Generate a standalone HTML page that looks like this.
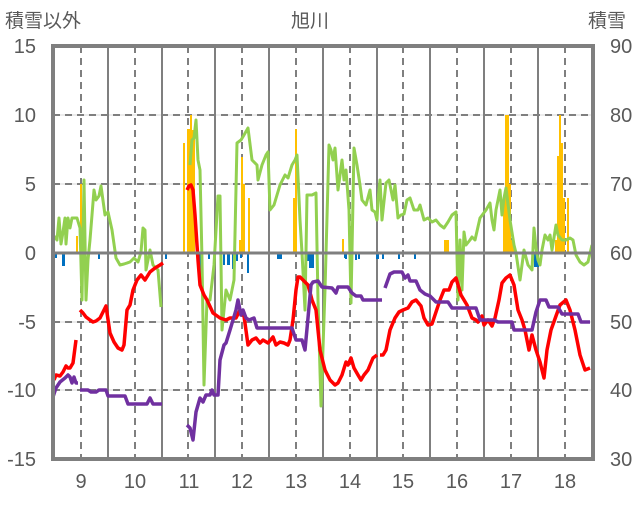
<!DOCTYPE html>
<html><head><meta charset="utf-8"><style>
body{margin:0;background:#fff}
svg text{font-family:"Liberation Sans","Noto Sans CJK JP",sans-serif;fill:#595959}
</style></head><body>
<svg width="636" height="501" viewBox="0 0 636 501" xmlns="http://www.w3.org/2000/svg">
<g font-size="19">
<text x="5" y="27">積雪以外</text>
<text x="310" y="27" text-anchor="middle">旭川</text>
<text x="588" y="27">積雪</text>
</g>
<g font-size="20">
<text x="36" y="53" text-anchor="end">15</text>
<text x="36" y="122" text-anchor="end">10</text>
<text x="36" y="191" text-anchor="end">5</text>
<text x="36" y="260" text-anchor="end">0</text>
<text x="36" y="329" text-anchor="end">-5</text>
<text x="36" y="397" text-anchor="end">-10</text>
<text x="36" y="466" text-anchor="end">-15</text>
<text x="610" y="53">90</text>
<text x="610" y="122">80</text>
<text x="610" y="191">70</text>
<text x="610" y="260">60</text>
<text x="610" y="329">50</text>
<text x="610" y="397">40</text>
<text x="610" y="466">30</text>
<g text-anchor="middle">
<text x="81" y="488">9</text><text x="135" y="488">10</text><text x="189" y="488">11</text><text x="242" y="488">12</text><text x="296" y="488">13</text><text x="350" y="488">14</text><text x="403" y="488">15</text><text x="457" y="488">16</text><text x="511" y="488">17</text><text x="565" y="488">18</text>
</g></g>
<g stroke="#d9d9d9" stroke-width="1">
<line x1="53" y1="115" x2="593" y2="115"/><line x1="53" y1="184" x2="593" y2="184"/><line x1="53" y1="322" x2="593" y2="322"/><line x1="53" y1="390" x2="593" y2="390"/>
</g>
<g stroke="#7f7f7f" stroke-width="2" stroke-dasharray="7,5">
<line x1="53" y1="115" x2="593" y2="115"/><line x1="53" y1="184" x2="593" y2="184"/><line x1="53" y1="322" x2="593" y2="322"/><line x1="53" y1="390" x2="593" y2="390"/>
<line x1="81" y1="46" x2="81" y2="459"/><line x1="135" y1="46" x2="135" y2="459"/><line x1="188" y1="46" x2="188" y2="459"/><line x1="242" y1="46" x2="242" y2="459"/><line x1="296" y1="46" x2="296" y2="459"/><line x1="350" y1="46" x2="350" y2="459"/><line x1="403" y1="46" x2="403" y2="459"/><line x1="457" y1="46" x2="457" y2="459"/><line x1="511" y1="46" x2="511" y2="459"/><line x1="565" y1="46" x2="565" y2="459"/>
</g>
<g stroke="#7f7f7f" stroke-width="2">
<line x1="108" y1="46" x2="108" y2="459"/><line x1="162" y1="46" x2="162" y2="459"/><line x1="215" y1="46" x2="215" y2="459"/><line x1="269" y1="46" x2="269" y2="459"/><line x1="323" y1="46" x2="323" y2="459"/><line x1="377" y1="46" x2="377" y2="459"/><line x1="430" y1="46" x2="430" y2="459"/><line x1="484" y1="46" x2="484" y2="459"/><line x1="538" y1="46" x2="538" y2="459"/>
</g>
<g fill="#ffc000">
<rect x="76" y="236" width="2" height="17"/><rect x="80" y="184" width="2" height="69"/><rect x="84" y="240" width="2" height="13"/>
<rect x="183" y="143" width="2" height="110"/><rect x="187" y="129" width="3" height="124"/><rect x="190" y="115" width="2" height="138"/><rect x="192" y="130" width="3" height="123"/>
<rect x="239" y="240" width="2" height="13"/><rect x="241" y="157" width="2" height="96"/><rect x="243" y="184" width="2" height="69"/><rect x="248" y="198" width="2" height="55"/>
<rect x="293" y="198" width="2" height="55"/><rect x="295" y="129" width="2" height="124"/>
<rect x="342" y="239" width="2" height="14"/><rect x="444" y="240" width="5" height="13"/>
<rect x="503" y="198" width="3" height="55"/><rect x="505" y="115" width="4" height="138"/><rect x="509" y="184" width="2" height="69"/><rect x="511" y="240" width="3" height="13"/>
<rect x="555" y="240" width="2" height="13"/><rect x="557" y="156" width="2" height="97"/><rect x="559" y="115" width="2" height="138"/><rect x="561" y="143" width="2" height="110"/><rect x="563" y="198" width="2" height="55"/><rect x="567" y="198" width="2" height="55"/>
</g>
<g fill="#0070c0">
<rect x="55" y="253" width="2" height="5"/><rect x="62" y="253" width="3" height="13"/><rect x="98" y="253" width="2" height="6"/><rect x="145" y="253" width="2" height="10"/><rect x="165" y="253" width="2" height="6"/><rect x="199" y="253" width="2" height="28"/><rect x="208" y="253" width="2" height="6"/>
<rect x="223" y="253" width="2" height="12"/><rect x="227" y="253" width="3" height="12"/><rect x="232" y="253" width="2" height="16"/><rect x="236" y="253" width="2" height="8"/><rect x="240" y="253" width="2" height="5"/><rect x="247" y="253" width="2" height="20"/>
<rect x="277" y="253" width="5" height="6"/><rect x="305" y="253" width="4" height="8"/><rect x="309" y="253" width="5" height="15"/><rect x="344" y="253" width="2" height="5"/><rect x="345" y="253" width="2" height="6"/><rect x="355" y="253" width="2" height="7"/><rect x="358" y="253" width="2" height="6"/><rect x="376" y="253" width="3" height="6"/><rect x="382" y="253" width="2" height="6"/><rect x="398" y="253" width="2" height="6"/><rect x="414" y="253" width="2" height="6"/><rect x="534" y="253" width="5" height="14"/>
</g>
<g fill="none" stroke="#92d050" stroke-width="3" stroke-linejoin="round">
<polyline points="54,236 57,240 59,218 61,244 63,232 65,218 66,244 68,218 70,228 72,218 75,218 77,218 80,228 82,300 84,180 86,300 88,260 90,240 94,190 96,200 99,196 101,186 105,215 108,212 112,230 116,258 120,265 124,264 130,262 134,258 138,262 141,252 143,228 145,230 146,270 148,260 150,250 153,265 158,270 161,307"/>
<polyline points="190,165 192,140 194,138 196,120 198,160 200,170 202,260 204,385 207,300 210,300 214,265 218,196 220,196 222,330 226,290 230,300 234,280 237,143 241,140 244,135 248,128 252,160 257,165 258,180 262,165 266,155 268,152 270,210 274,205 280,185 285,175 288,178 292,165 295,160 297,155 300,220 302,253 305,310 307,195 312,195 316,193 318,300 321,406 325,290 329,145 331,150 333,160 335,148 338,190 342,160 344,180 346,170 349,210 351,303 354,148 357,165 360,185 362,200 366,205 370,190 372,210 375,212 377,220 378,200 380,180 382,220 386,183 389,180 393,200 395,185 398,218 401,215 404,214 407,200 410,198 414,210 418,210 420,205 424,220 428,218 432,222 436,220 440,225 444,228 448,222 452,215 456,212 458,300 460,240 462,290 464,232 466,245 470,240 472,237 475,240 480,218 486,210 490,203 492,220 494,230 496,210 500,190 502,215 504,198 506,188 510,220 514,245 516,253 520,280 524,250 528,265 532,270 534,228 536,248 538,260 540,265 542,250 545,235 548,240 550,235 552,250 556,225 558,235 562,240 566,240 570,238 573,240 576,255 580,262 584,265 588,262 592,245"/>
</g>
<g fill="none" stroke="#ff0000" stroke-width="3.5" stroke-linejoin="round">
<polyline points="54,380 56,375 60,376 63,372 66,366 68,368 70,368 73,363 76,340"/>
<polyline points="80,310 83,313 86,317 90,320 93,322 96,321 100,318 103,312 106,306 110,333 114,342 118,348 122,350 124,345 127,310 130,305 133,290 137,280 141,275 145,280 150,272 155,268 160,265 163,263"/>
<polyline points="187,190 189,186 191,185 193,190 195,215 198,260 200,285 204,295 207,300 213,313 220,318 226,320 230,318 236,318 240,310 244,316 248,345 252,340 256,338 260,343 263,340 268,343 273,337 276,345 280,342 284,343 288,345 290,340 293,320 296,290 298,277 300,277 303,280 308,285 312,300 316,310 320,350 325,370 330,380 335,385 338,383 342,375 346,362 348,365 351,358 354,368 358,375 361,380 364,375 368,370 373,358 377,355"/>
<polyline points="380,355 383,355 386,350 390,330 395,318 399,312 403,310 408,308 412,302 416,300 421,306 424,318 428,325 432,324 436,312 440,300 444,290 449,290 452,282 456,278 461,295 467,305 472,318 476,320 478,322 482,316 484,325 488,320 492,326 495,318 499,300 502,283 506,278 510,275 514,285 518,310 522,320 525,330 529,350 532,335 536,350 540,362 544,378 547,350 551,330 556,316 560,305 566,300 570,310 575,330 580,355 585,370 590,368"/>
</g>
<g fill="none" stroke="#7030a0" stroke-width="3.5" stroke-linejoin="round">
<polyline points="53,397 56,388 60,382 65,378 68,375 70,377 72,383 74,377 76,383 78,383"/>
<polyline points="80,390 88,390 91,392 96,392 99,390 106,390 108,396 125,396 128,404 147,404 150,398 153,404 162,404"/>
<polyline points="187,425 190,428 193,440 196,412 200,398 203,402 206,395 210,395 212,390 214,395 218,395 220,360 224,345 226,343 230,330 233,320 236,310 238,300 239,305 241,315 243,310 246,318 249,320 254,318 257,328 292,328 296,340 302,340 305,350 308,318 311,285 313,282 318,281 322,287 332,288 336,293 338,287 348,287 352,293 356,296 361,296 363,300 382,300"/>
<polyline points="385,288 390,274 394,272 402,272 405,278 408,275 410,281 416,281 420,290 425,294 430,296 436,302 448,302 452,308 476,308 480,320 494,320 498,322 512,322 514,330 532,330 536,312 540,300 546,300 549,307 558,307 562,314 578,314 581,322 590,322"/>
</g>
<line x1="53" y1="253" x2="593" y2="253" stroke="#7f7f7f" stroke-width="3"/>
<rect x="53" y="46" width="540" height="413" fill="none" stroke="#7f7f7f" stroke-width="4"/>
</svg>
</body></html>
